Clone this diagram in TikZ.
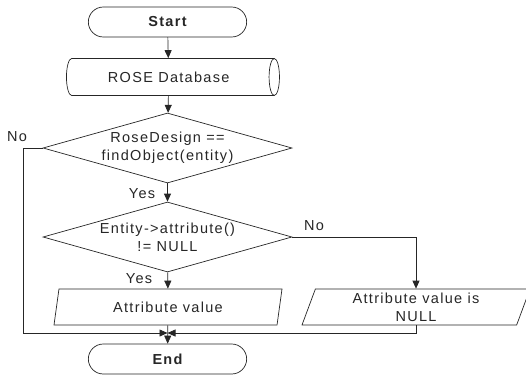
\documentclass[tikz,border=0pt]{standalone}
\usepackage{fontspec}
\setmainfont[LetterSpace=9]{Liberation Sans}
\usepackage{tikz}
\usetikzlibrary{arrows,arrows.meta,shapes.geometric,shapes.misc}

\begin{document}
\begin{tikzpicture}[x=1pt,y=-1pt]
\tikzset{every node/.style = {font=\fontsize{14.5}{18}\selectfont,text=black!85}}
\tikzset{terminal/.style = {shape=rounded rectangle,draw,minimum width=165pt,minimum height=30pt,font=\fontsize{14.5}{18}\selectfont\bfseries}}
\tikzset{database/.style = {shape=cylinder,draw,shape border rotate=0,aspect=0.6,minimum width=37pt,minimum height=213pt}}
\tikzset{decision/.style = {shape=diamond,draw,aspect=3.56,minimum width=249pt,minimum height=70pt,inner xsep=-8pt,inner ysep=0pt,align=center}}
\tikzset{io/.style = {shape=trapezium,draw,trapezium left angle=65,trapezium right angle=115,trapezium stretches body,minimum width=228pt,minimum height=36pt,inner ysep=0pt,align=center}}
\tikzset{edge/.style = {-{Triangle[length=8pt,width=7pt]}}}
\useasboundingbox (0,0) rectangle (526,378);
\begin{scope}[every path/.style={draw=black!85,line width=0.7pt}]
% vertices
\node[terminal] (start) at (167.5,22) {Start};
\node[database] (db) at (168.7,77) {ROSE Database};
\node[decision] (d1) at (167.5,148) {RoseDesign ==\\findObject(entity)};
\node[decision] (d2) at (167.5,237) {Entity->attribute()\\!= NULL};
\node[io] (val) at (168,307) {Attribute value};
\node[io] (null) at (416,307) {Attribute value is\\NULL};
\node[terminal] (end) at (167.5,359) {End};
\coordinate (m) at (167.5,333);
\coordinate (back) at (23,148);
% labels
\node (no1) at (17,137) {No};
\node (yes1) at (142,194) {Yes};
\node (no2) at (314,226) {No};
\node (yes2) at (139,279) {Yes};
%edges
\draw[edge] (start) to (db);
\draw[edge] (db) to (d1);
\draw[edge] (d1) to (d2);
\draw[edge] (d2) to (val);
\draw[edge] (d2.east) -| (null);
\draw[edge] (val) to (end);
\draw[edge] (d1.west) -- (back) |- (m);
\draw[edge] (null.south) |- (m);
\end{scope}
\end{tikzpicture}
\end{document}
